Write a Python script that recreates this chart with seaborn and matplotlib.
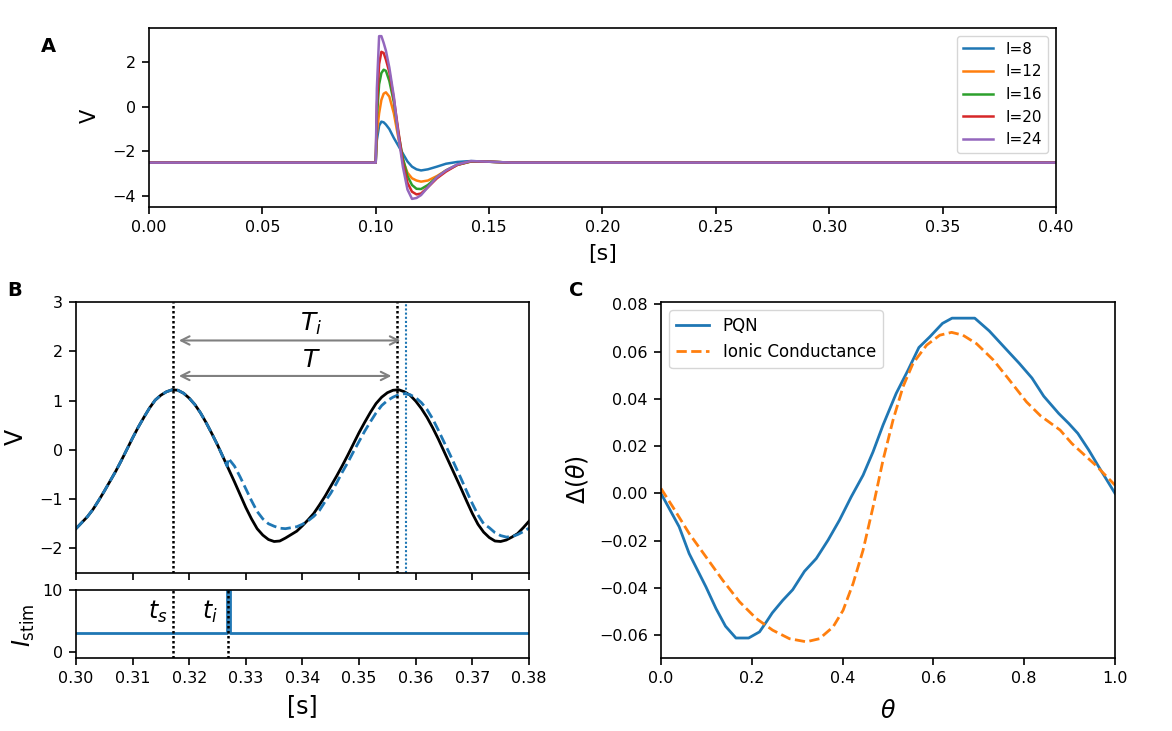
import pandas as pd
import seaborn as sns
import matplotlib.pyplot as plt

# ---------------- Panel A: membrane response for different input currents
t_a = [0.0, 0.1, 0.1005, 0.1015, 0.1025, 0.1035, 0.1045, 0.106, 0.108, 0.110,
       0.112, 0.114, 0.116, 0.118, 0.120, 0.123, 0.127, 0.131, 0.136, 0.142,
       0.150, 0.160, 0.4]
v_i8 = [-2.5, -2.5, -1.5, -0.85, -0.67, -0.70, -0.80, -1.0, -1.4, -1.75,
        -2.1, -2.45, -2.68, -2.8, -2.85, -2.8, -2.68, -2.55, -2.47, -2.43,
        -2.46, -2.5, -2.5]
v_i12 = [-2.5, -2.5, -1.2, -0.3, 0.3, 0.58, 0.64, 0.45, -0.3, -1.4,
         -2.4, -2.95, -3.2, -3.3, -3.35, -3.3, -3.1, -2.85, -2.6, -2.45,
         -2.46, -2.5, -2.5]
v_i16 = [-2.5, -2.5, -0.5, 1.0, 1.5, 1.65, 1.6, 1.15, 0.2, -1.2,
         -2.3, -3.1, -3.5, -3.67, -3.68, -3.5, -3.15, -2.85, -2.6, -2.45,
         -2.46, -2.5, -2.5]
v_i20 = [-2.5, -2.5, 0.0, 1.9, 2.45, 2.4, 2.1, 1.55, 0.35, -1.1,
         -2.5, -3.4, -3.8, -3.92, -3.88, -3.6, -3.2, -2.9, -2.6, -2.44,
         -2.46, -2.5, -2.5]
v_i24 = [-2.5, -2.5, 0.8, 3.15, 3.15, 2.85, 2.5, 1.75, 0.45, -1.3,
         -2.7, -3.7, -4.12, -4.08, -3.95, -3.6, -3.15, -2.85, -2.58, -2.43,
         -2.46, -2.5, -2.5]
currents = [8, 12, 16, 20, 24]

# ---------------- Panel B: unperturbed vs perturbed oscillation
t_b = [round(0.300 + 0.001 * k, 3) for k in range(81)]
v_free = [-1.60, -1.48, -1.36, -1.21, -1.03, -0.84, -0.64, -0.44, -0.22, 0.01,
          0.24, 0.46, 0.66, 0.85, 1.01, 1.11, 1.18, 1.22, 1.21, 1.15,
          1.05, 0.92, 0.75, 0.55, 0.33, 0.10, -0.15, -0.40, -0.65, -0.91,
          -1.17, -1.40, -1.60, -1.73, -1.82, -1.86, -1.85, -1.79, -1.72, -1.65,
          -1.54, -1.42, -1.29, -1.12, -0.94, -0.74, -0.54, -0.33, -0.11, 0.12,
          0.35, 0.56, 0.76, 0.94, 1.07, 1.16, 1.21, 1.22, 1.18, 1.11,
          0.99, 0.84, 0.66, 0.45, 0.22, -0.03, -0.28, -0.53, -0.78, -1.04,
          -1.29, -1.51, -1.67, -1.78, -1.85, -1.86, -1.83, -1.77, -1.70, -1.58,
          -1.45]
# perturbed trace: same as free one up to the kick at t_i, then these values
t_kick = [0.3267, 0.3269]
v_kick = [-0.33, -0.17]
t_pert = [round(0.328 + 0.001 * k, 3) for k in range(53)]
v_pert = [-0.33, -0.55, -0.79, -1.03, -1.25, -1.40, -1.50, -1.55, -1.59, -1.60,
          -1.58, -1.56, -1.51, -1.44, -1.35, -1.23, -1.05, -0.88, -0.68, -0.46,
          -0.26, -0.04, 0.17, 0.38, 0.57, 0.75, 0.90, 1.00, 1.07, 1.12,
          1.14, 1.12, 1.06, 0.96, 0.82, 0.63, 0.40, 0.16, -0.08, -0.33,
          -0.58, -0.84, -1.09, -1.32, -1.50, -1.58, -1.68, -1.74, -1.77, -1.76,
          -1.72, -1.66, -1.59]
t_s, t_peak, t_peak_pert, t_i = 0.3172, 0.3567, 0.3583, 0.3269

t_stim = [0.30, 0.3267, 0.3267, 0.3272, 0.3272, 0.38]
i_stim = [3, 3, 10, 10, 3, 3]

# ---------------- Panel C: phase response curves
theta_pqn = [0.0, 0.040, 0.062, 0.099, 0.121, 0.142, 0.165, 0.193, 0.217, 0.232,
             0.245, 0.268, 0.290, 0.316, 0.342, 0.368, 0.393, 0.419, 0.445, 0.467,
             0.489, 0.518, 0.544, 0.568, 0.592, 0.620, 0.641, 0.691, 0.723, 0.760,
             0.789, 0.817, 0.843, 0.876, 0.898, 0.918, 0.942, 0.964, 1.0]
delta_pqn = [0.0, -0.0141, -0.0254, -0.0395, -0.0486, -0.0561, -0.0611, -0.0611, -0.0585, -0.0543,
             -0.0505, -0.0452, -0.0407, -0.0329, -0.0275, -0.0197, -0.0113, -0.0014, 0.0077, 0.0176,
             0.0289, 0.0423, 0.0521, 0.0617, 0.0662, 0.0719, 0.0741, 0.0741, 0.0687, 0.0610,
             0.0550, 0.0488, 0.0411, 0.0338, 0.0296, 0.0254, 0.0184, 0.0113, 0.0]
theta_ion = [0.0, 0.026, 0.062, 0.099, 0.136, 0.173, 0.210, 0.246, 0.283, 0.320,
             0.349, 0.379, 0.401, 0.423, 0.445, 0.467, 0.489, 0.511, 0.533, 0.555,
             0.585, 0.614, 0.640, 0.665, 0.695, 0.732, 0.763, 0.805, 0.836, 0.879,
             0.905, 0.957, 1.0]
delta_ion = [0.0021, -0.0057, -0.0169, -0.0268, -0.0367, -0.0458, -0.0529, -0.0578, -0.0614, -0.0627,
             -0.0614, -0.0564, -0.0494, -0.0381, -0.0240, -0.0057, 0.0141, 0.0310, 0.0451, 0.0550,
             0.0627, 0.0669, 0.0681, 0.0669, 0.0633, 0.0564, 0.0490, 0.0387, 0.0328, 0.0268,
             0.0211, 0.0120, 0.0035]

plt.rcParams.update({
    'axes.linewidth': 1.2,
    'xtick.major.width': 1.2, 'ytick.major.width': 1.2,
    'xtick.major.size': 5, 'ytick.major.size': 5,
    'xtick.major.pad': 4.5, 'ytick.major.pad': 4.5,
    'xtick.labelsize': 11.5, 'ytick.labelsize': 11.5,
})

fig = plt.figure(figsize=(11.72, 7.31), dpi=100)
ax_a = fig.add_axes([0.1271, 0.7168, 0.7739, 0.2449])
ax_b = fig.add_axes([0.0648, 0.2161, 0.3865, 0.3707])
ax_s = fig.add_axes([0.0648, 0.0999, 0.3865, 0.0930])
ax_c = fig.add_axes([0.5640, 0.0999, 0.3874, 0.4870])
pal = sns.color_palette('tab10')

# Panel A
traces = [v_i8, v_i12, v_i16, v_i20, v_i24]
for k, (cur, v) in enumerate(zip(currents, traces)):
    sns.lineplot(x=t_a, y=v, ax=ax_a, color=pal[k], lw=1.8, label=f'I={cur}',
                 sort=False, estimator=None)
ax_a.set_xlim(0, 0.4)
ax_a.set_xticks([0.0, 0.05, 0.10, 0.15, 0.20, 0.25, 0.30, 0.35, 0.40])
ax_a.set_yticks([-4, -2, 0, 2])
ax_a.set_xlabel('[s]', fontsize=16, labelpad=6)
ax_a.set_ylabel('')
ax_a.legend(loc='upper right', fontsize=11)
fig.text(90 / 1172, 1 - 116 / 731, 'V', fontsize=15, rotation=90, ha='center', va='center')

# Panel B top
v_pert_full = v_free[:27] + v_kick + v_pert
t_pert_full = t_b[:27] + t_kick + t_pert
sns.lineplot(x=t_b, y=v_free, ax=ax_b, color='black', lw=2, sort=False, estimator=None)
sns.lineplot(x=t_pert_full, y=v_pert_full, ax=ax_b, color=pal[0], lw=2, ls='--',
             sort=False, estimator=None)
for tv in [t_s, t_peak]:
    ax_b.axvline(tv, color='black', lw=1.8, ls=(0, (1, 1)))
ax_b.axvline(t_peak_pert, color=pal[0], lw=1.5, ls=(0, (1, 1)))
arrow = dict(arrowstyle='<->', color='gray', lw=1.5, shrinkA=4, shrinkB=4, mutation_scale=15)
ax_b.annotate('', xy=(t_peak_pert, 2.22), xytext=(t_s, 2.22), arrowprops=arrow)
ax_b.annotate('', xy=(t_peak, 1.50), xytext=(t_s, 1.50), arrowprops=arrow)
ax_b.text(0.3416, 2.55, r'$T_i$', fontsize=18, ha='center', va='center')
ax_b.text(0.3416, 1.82, r'$T$', fontsize=18, ha='center', va='center')
ax_b.set_xlim(0.30, 0.38)
ax_b.set_ylim(-2.5, 3)
ax_b.set_xticks([0.30, 0.31, 0.32, 0.33, 0.34, 0.35, 0.36, 0.37, 0.38])
ax_b.tick_params(labelbottom=False)
ax_b.set_ylabel('')
fig.text(16 / 1172, 1 - 437 / 731, 'V', fontsize=17, rotation=90, ha='center', va='center')

# Panel B bottom
sns.lineplot(x=t_stim, y=i_stim, ax=ax_s, color=pal[0], lw=2, sort=False, estimator=None)
for tv in [t_s, t_i]:
    ax_s.axvline(tv, color='black', lw=1.8, ls=(0, (1, 1)))
ax_s.text(0.3144, 6.5, r'$t_s$', fontsize=17, ha='center', va='center')
ax_s.text(0.3237, 6.5, r'$t_i$', fontsize=17, ha='center', va='center')
ax_s.set_xlim(0.30, 0.38)
ax_s.set_ylim(-1, 10)
ax_s.set_yticks([0, 10])
ax_s.set_xticks([0.30, 0.31, 0.32, 0.33, 0.34, 0.35, 0.36, 0.37, 0.38])
ax_s.set_xlabel('[s]', fontsize=17, labelpad=6)
ax_s.set_ylabel('')
fig.text(24 / 1172, 1 - 625 / 731, r'$I_{\rm stim}$', fontsize=17, rotation=90,
         ha='center', va='center')

# Panel C
sns.lineplot(x=theta_pqn, y=delta_pqn, ax=ax_c, color=pal[0], lw=2, label='PQN',
             sort=False, estimator=None)
sns.lineplot(x=theta_ion, y=delta_ion, ax=ax_c, color=pal[1], lw=2, ls='--',
             label='Ionic Conductance', sort=False, estimator=None)
ax_c.set_xlim(0, 1)
ax_c.set_xlabel(r'$\theta$', fontsize=17, labelpad=9)
ax_c.set_ylabel('')
ax_c.legend(loc='upper left', fontsize=12)
fig.text(577 / 1172, 1 - 480 / 731, r'$\Delta(\theta)$', fontsize=17, rotation=90,
         ha='center', va='center')

fig.text(48 / 1172, 1 - 46 / 731, 'A', fontsize=14, fontweight='bold', ha='center', va='center')
fig.text(15 / 1172, 1 - 290 / 731, 'B', fontsize=14, fontweight='bold', ha='center', va='center')
fig.text(576 / 1172, 1 - 290 / 731, 'C', fontsize=14, fontweight='bold', ha='center', va='center')

fig.savefig('out.png', dpi=100)
